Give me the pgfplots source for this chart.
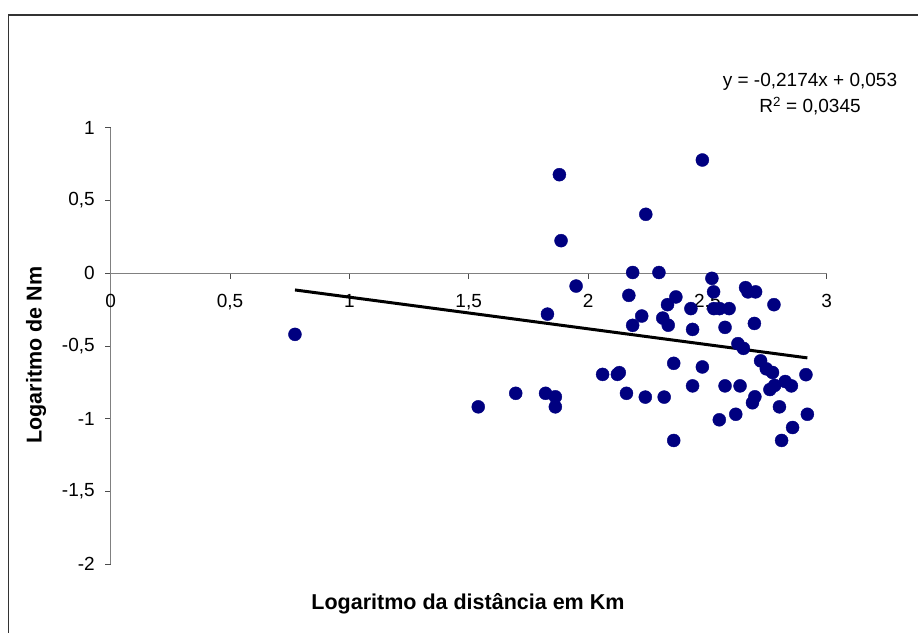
\documentclass[border=0pt]{standalone}
\usepackage{fontspec}
\setmainfont{Liberation Sans}
\usepackage{pgfplots}
\pgfplotsset{compat=1.18}
\definecolor{navy}{RGB}{0,0,128}
\definecolor{axisgray}{RGB}{128,128,128}
\begin{document}
\begin{tikzpicture}
\path[use as bounding box] (0pt,0pt) rectangle (918pt,-632pt);
\clip (0pt,0pt) rectangle (918pt,-632pt);
\draw[line width=1.5pt, black!80] (8.5pt,-700pt) -- (8.5pt,-15pt) -- (1000pt,-15pt);
\begin{axis}[
  at={(110.7pt,-564.3pt)}, anchor=south west,
  scale only axis, width=716pt, height=436.6pt,
  xmin=0, xmax=3, ymin=-2, ymax=1,
  axis x line=middle, axis y line=left,
  axis line style={-, draw=axisgray, line width=1pt},
  xtick={0,0.5,1,1.5,2,2.5,3},
  xticklabels={0,{0,5},1,{1,5},2,{2,5},3},
  ytick={-2,-1.5,-1,-0.5,0,0.5,1},
  yticklabels={-2,{-1,5},-1,{-0,5},0,{0,5},1},
  tick align=outside, major tick length=5.5pt,
  tick style={draw=black!70, line width=1pt},
  hide obscured x ticks=false, hide obscured y ticks=false,
  ticklabel style={font=\fontsize{19}{22}\selectfont},
  xticklabel style={yshift=-12pt},
  yticklabel style={xshift=-7pt},
  xlabel={Logaritmo da distância em Km},
  ylabel={Logaritmo de Nm},
  xlabel style={at={(axis description cs:0.499,-0.1031)}, anchor=base, font=\bfseries\fontsize{21.5}{24}\selectfont},
  ylabel style={at={(axis description cs:-0.1043,0.479)}, anchor=center, rotate=0, font=\bfseries\fontsize{21.5}{24}\selectfont},
  clip=false,
]
\addplot[only marks, mark=*, mark size=6.5pt, color=navy, mark options={draw=navy, fill=navy}] table {
x y
0.772 -0.420
1.540 -0.918
1.697 -0.825
1.822 -0.825
1.863 -0.849
1.863 -0.918
1.830 -0.281
1.880 0.677
1.887 0.224
1.950 -0.088
2.061 -0.695
2.123 -0.695
2.131 -0.683
2.161 -0.825
2.240 -0.851
2.319 -0.851
2.187 0.005
2.297 0.005
2.242 0.405
2.479 0.778
2.171 -0.152
2.225 -0.294
2.187 -0.358
2.333 -0.216
2.368 -0.163
2.313 -0.308
2.336 -0.357
2.359 -0.619
2.359 -1.149
2.519 -0.035
2.526 -0.128
2.660 -0.099
2.670 -0.128
2.702 -0.128
2.779 -0.216
2.431 -0.243
2.527 -0.243
2.551 -0.243
2.591 -0.243
2.438 -0.386
2.574 -0.372
2.697 -0.345
2.628 -0.484
2.651 -0.516
2.723 -0.602
2.747 -0.657
2.773 -0.682
2.913 -0.697
2.479 -0.644
2.438 -0.774
2.574 -0.774
2.637 -0.774
2.826 -0.744
2.852 -0.774
2.762 -0.799
2.782 -0.771
2.699 -0.849
2.689 -0.890
2.802 -0.918
2.919 -0.969
2.619 -0.969
2.550 -1.007
2.857 -1.060
2.811 -1.149
};
\addplot[black, line width=3pt, no marks] coordinates {(0.772,-0.1148) (2.919,-0.5816)};
\node[anchor=base, font=\fontsize{19}{22}\selectfont] at (axis cs:2.93,1.282) {y = -0,2174x + 0,053};
\node[anchor=base, font=\fontsize{19}{22}\selectfont] at (axis cs:2.93,1.103) {R\textsuperscript{2} = 0,0345};
\end{axis}
\end{tikzpicture}
\end{document}
